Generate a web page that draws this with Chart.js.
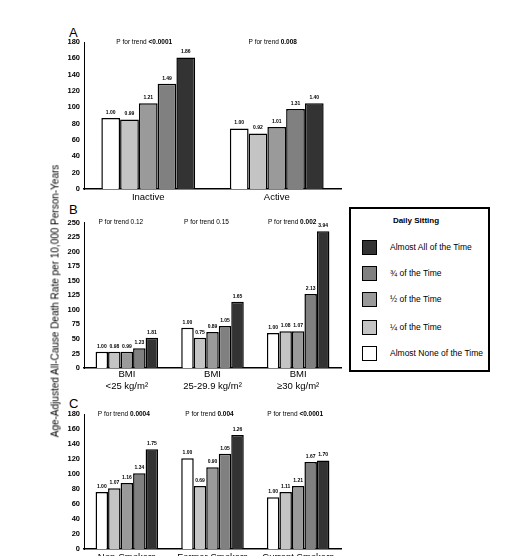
<!DOCTYPE html>
<html>
<head>
<meta charset="utf-8">
<script src="https://cdn.jsdelivr.net/npm/chart.js@4.4.0/dist/chart.umd.min.js"></script>
<style>
    body{margin:0;width:530px;height:556px;overflow:hidden;background:#fff;position:relative;
         font-family:"Liberation Sans",Arial,sans-serif;color:#000}
    canvas{position:absolute;left:0}
    .letter{position:absolute;left:69px;font-size:13px;line-height:13px}
    #ytitle{position:absolute;left:55px;top:301px;transform:translate(-50%,-50%) rotate(-90deg);
            font-size:10px;white-space:nowrap;z-index:2}
    #legend{position:absolute;left:349px;top:207px;width:137px;height:161px;border:2px solid #000;background:#fff}
    #legend .ttl{position:absolute;left:0;width:130px;top:7px;text-align:center;font-size:8px;font-weight:bold}
    #legend .row{position:absolute;left:11px;height:15px;font-size:8.5px;line-height:15px;white-space:nowrap}
    #legend .sw{position:absolute;left:0;top:0;width:13px;height:13px;border:1px solid #000}
    #legend .txt{position:absolute;left:28px;top:0}
</style>
</head>
<body>
<div class="letter" style="top:26px">A</div>
<div class="letter" style="top:203px">B</div>
<div class="letter" style="top:397px">C</div>
<div id="ytitle">Age-Adjusted All-Cause Death Rate per 10,000 Person-Years</div>

<canvas id="chartA" width="345" height="190" style="top:20px"></canvas>
<canvas id="chartB" width="345" height="200" style="top:205px"></canvas>
<canvas id="chartC" width="345" height="170" style="top:400px"></canvas>

<div id="legend"><div class="ttl">Daily Sitting</div></div>

<script>
// sitting levels, left-to-right bar order
const sittingLevels = ['Almost None of the Time', '¼ of the Time', '½ of the Time', '¾ of the Time', 'Almost All of the Time'];
const sittingColors = ['#ffffff', '#c4c4c4', '#9a9a9a', '#808080', '#333333'];

// A - physical activity
const activityCats = ['Inactive', 'Active'];
const inactiveRates = [87, 85, 105, 129, 161];
const activeRates = [74, 68, 76, 98, 105];
const inactiveRR = ['1.00', '0.99', '1.21', '1.49', '1.86'];
const activeRR = ['1.00', '0.92', '1.01', '1.31', '1.40'];
const trendA = [{p:'<0.0001', bold:true}, {p:'0.008', bold:true}];
const ticksA = [0, 180, 20];

// B - BMI
const bmiCats = [['BMI', '<25 kg/m²'], ['BMI', '25-29.9 kg/m²'], ['BMI', '≥30 kg/m²']];
const bmiLowRates = [28, 28, 28, 34, 52];
const bmiMidRates = [69, 52, 62, 72, 114];
const bmiHighRates = [60, 63, 63, 127, 235];
const bmiLowRR = ['1.00', '0.98', '0.99', '1.23', '1.81'];
const bmiMidRR = ['1.00', '0.75', '0.89', '1.05', '1.65'];
const bmiHighRR = ['1.00', '1.08', '1.07', '2.13', '3.94'];
const trendB = [{p:'0.12', bold:false}, {p:'0.15', bold:false}, {p:'0.002', bold:true}];
const ticksB = [0, 250, 25];

// C - smoking
const smokeCats = ['Non-Smokers', 'Former Smokers', 'Current Smokers'];
const nonSmokerRates = [76, 81, 88, 101, 133];
const formerSmokerRates = [121, 84, 109, 127, 152];
const currentSmokerRates = [69, 76, 84, 116, 118];
const nonSmokerRR = ['1.00', '1.07', '1.16', '1.34', '1.75'];
const formerSmokerRR = ['1.00', '0.69', '0.90', '1.05', '1.26'];
const currentSmokerRR = ['1.00', '1.11', '1.21', '1.67', '1.70'];
const trendC = [{p:'0.0004', bold:true}, {p:'0.004', bold:true}, {p:'<0.0001', bold:true}];
const ticksC = [0, 180, 20];

const FONT = '"Liberation Sans", Arial, sans-serif';

// relative risks above bars + P for trend
const notesPlugin = {
    id: 'barNotes',
    afterDatasetsDraw(chart, args, opts){
        const ctx = chart.ctx;
        ctx.save();
        ctx.fillStyle = '#000';
        ctx.textAlign = 'center';
        ctx.textBaseline = 'bottom';
        ctx.font = 'bold 5px ' + FONT;
        chart.data.datasets.forEach((ds, di)=>{
            chart.getDatasetMeta(di).data.forEach((bar, ci)=>{
                ctx.fillText(opts.rr[ci][di], bar.x, bar.y - 3);
            });
        });
        ctx.textBaseline = 'middle';
        ctx.textAlign = 'left';
        opts.trend.forEach((t, ci)=>{
            const x = chart.scales.x.getPixelForValue(ci) + opts.shift;
            const y = chart.chartArea.top + opts.dy;
            ctx.font = '6.5px ' + FONT;
            const w1 = ctx.measureText('P for trend ').width;
            ctx.font = (t.bold ? 'bold ' : '') + '6.5px ' + FONT;
            const w2 = ctx.measureText(t.p).width;
            const x0 = x - (w1 + w2) / 2;
            ctx.font = '6.5px ' + FONT;
            ctx.fillText('P for trend ', x0, y);
            ctx.font = (t.bold ? 'bold ' : '') + '6.5px ' + FONT;
            ctx.fillText(t.p, x0 + w1, y);
        });
        ctx.restore();
    }
};

function makePanel(id, cats, groups, rr, trend, ticks, padTop, xHeight, labelPad, shift){
    const datasets = sittingLevels.map((lvl, li)=>({
        label: lvl,
        data: groups.map(g=>g[li]),
        backgroundColor: sittingColors[li],
        borderColor: '#000',
        borderWidth: 1.5,
        barPercentage: 1,
        categoryPercentage: 0.73
    }));
    return new Chart(document.getElementById(id), {
        type: 'bar',
        data: {labels: cats, datasets: datasets},
        options: {
            responsive: false,
            animation: false,
            layout: {padding: {left: 0, right: 4, top: padTop, bottom: 0}},
            plugins: {
                legend: {display: false},
                tooltip: {enabled: false},
                barNotes: {rr: rr, trend: trend, dy: 0, shift: shift}
            },
            scales: {
                x: {
                    grid: {display: false, drawTicks: false, tickLength: 0},
                    border: {display: true, color: '#000', width: 1.5},
                    ticks: {color: '#000', font: {family: FONT, size: 9.5}, padding: labelPad, maxRotation: 0, autoSkip: false},
                    afterFit: s=>{ s.height = xHeight; }
                },
                y: {
                    min: ticks[0], max: ticks[1],
                    grid: {display: false, drawTicks: false, tickLength: 0},
                    border: {display: true, color: '#000', width: 1},
                    ticks: {stepSize: ticks[2], color: '#000', font: {family: FONT, size: 7.5, weight: 'bold'}, padding: 4},
                    afterFit: s=>{ s.width = 84; }
                }
            }
        },
        plugins: [notesPlugin]
    });
}

makePanel('chartA', activityCats, [inactiveRates, activeRates], [inactiveRR, activeRR], trendA, ticksA, 22, 21, 3, -4);
makePanel('chartB', bmiCats, [bmiLowRates, bmiMidRates, bmiHighRates], [bmiLowRR, bmiMidRR, bmiHighRR], trendB, ticksB, 17.5, 37, 1, -6);
makePanel('chartC', smokeCats, [nonSmokerRates, formerSmokerRates, currentSmokerRates], [nonSmokerRR, formerSmokerRR, currentSmokerRR], trendC, ticksC, 14, 21, 3, -3);

// legend, top row = most sitting
const legend = document.getElementById('legend');
const rowTops = [31, 57, 83, 111, 137];
sittingLevels.slice().reverse().forEach((lvl, i)=>{
    const ci = sittingLevels.length - 1 - i;
    const row = document.createElement('div');
    row.className = 'row';
    row.style.top = rowTops[i] + 'px';
    row.innerHTML = '<div class="sw" style="background:' + sittingColors[ci] + '"></div><div class="txt">' + lvl + '</div>';
    legend.appendChild(row);
});
</script>
</body>
</html>
